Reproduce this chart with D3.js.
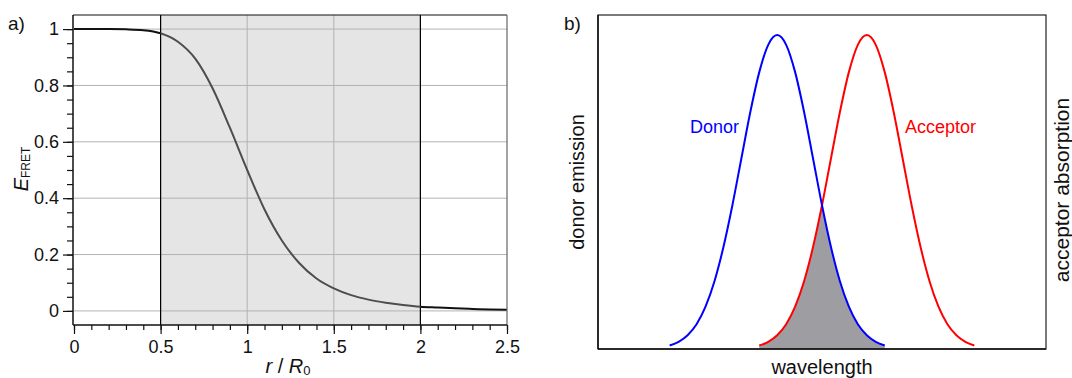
<!DOCTYPE html>
<html>
<head>
<meta charset="utf-8">
<script src="https://cdn.jsdelivr.net/npm/d3@7"></script>
<style>
  body { margin: 0; background: #fff; }
  svg { display: block; font-family: "Liberation Sans", Arial, Helvetica, sans-serif; }
</style>
</head>
<body>
<svg id="chart" width="1072" height="378"></svg>
<script>
'use strict';

// panel a) FRET efficiency vs distance
const distanceR = [0, 0.1, 0.2, 0.3, 0.4, 0.5, 0.6, 0.7, 0.8, 0.9, 1.0, 1.1, 1.2, 1.3,
                   1.4, 1.5, 1.6, 1.7, 1.8, 1.9, 2.0, 2.1, 2.2, 2.3, 2.4, 2.5];
const efficiency = [1, 1, 1, 0.999, 0.996, 0.985, 0.955, 0.895, 0.79, 0.65, 0.5, 0.36,
                    0.25, 0.17, 0.115, 0.08, 0.056, 0.04, 0.029, 0.021, 0.015, 0.012,
                    0.009, 0.007, 0.005, 0.004];
const xTicksA = [0, 0.5, 1, 1.5, 2, 2.5];
const yTicksA = [0, 0.2, 0.4, 0.6, 0.8, 1];
const shadedRange = [0.5, 2];

// panel b) spectra (arbitrary wavelength units 0..100)
const donorWl = [16, 18, 20, 22, 24, 26, 28, 30, 32, 34, 36, 38, 40,
                 42, 44, 46, 48, 50, 52, 54, 56, 58, 60, 62, 64];
const donorEm = [0.011, 0.023, 0.044, 0.079, 0.135, 0.216, 0.325, 0.458, 0.607, 0.755, 0.882, 0.969, 1,
                 0.969, 0.882, 0.755, 0.607, 0.458, 0.325, 0.216, 0.135, 0.079, 0.044, 0.023, 0.011];
const acceptorWl = [36, 38, 40, 42, 44, 46, 48, 50, 52, 54, 56, 58, 60,
                    62, 64, 66, 68, 70, 72, 74, 76, 78, 80, 82, 84];
const acceptorAbs = [0.011, 0.023, 0.044, 0.079, 0.135, 0.216, 0.325, 0.458, 0.607, 0.755, 0.882, 0.969, 1,
                     0.969, 0.882, 0.755, 0.607, 0.458, 0.325, 0.216, 0.135, 0.079, 0.044, 0.023, 0.011];

const svg = d3.select('#chart');

// ---------- panel a ----------
const A = { left: 74, right: 507, top: 15, bottom: 325 };
const xA = d3.scaleLinear().domain([0, 2.5]).range([A.left, A.right]);
const yA = d3.scaleLinear().domain([-0.05, 1.05]).range([A.bottom, A.top]);

const ga = svg.append('g');

ga.append('rect')
  .attr('x', xA(shadedRange[0])).attr('y', A.top)
  .attr('width', xA(shadedRange[1]) - xA(shadedRange[0]))
  .attr('height', A.bottom - A.top)
  .attr('fill', '#e5e5e5');

// grid
ga.selectAll('line.hgrid').data(yTicksA).join('line')
  .attr('x1', A.left).attr('x2', A.right)
  .attr('y1', d => yA(d)).attr('y2', d => yA(d))
  .attr('stroke', '#b3b3b3').attr('stroke-width', 1);
ga.selectAll('line.vgrid').data(xTicksA.slice(1, -1)).join('line')
  .attr('x1', d => xA(d)).attr('x2', d => xA(d))
  .attr('y1', A.top).attr('y2', A.bottom)
  .attr('stroke', '#b3b3b3').attr('stroke-width', 1);

// shaded region borders
ga.selectAll('line.edge').data(shadedRange).join('line')
  .attr('x1', d => xA(d)).attr('x2', d => xA(d))
  .attr('y1', A.top).attr('y2', A.bottom)
  .attr('stroke', '#000').attr('stroke-width', 1.2);

// curve: black outside the shaded band, grey inside it
const pts = distanceR.map((r, i) => [r, efficiency[i]]);
const lineA = d3.line().x(d => xA(d[0])).y(d => yA(d[1])).curve(d3.curveMonotoneX);
const x0 = xA(shadedRange[0]), x1 = xA(shadedRange[1]);
svg.append('clipPath').attr('id', 'shadeIn').append('rect')
  .attr('x', x0).attr('y', 0).attr('width', x1 - x0).attr('height', 378);
svg.append('clipPath').attr('id', 'shadeOut').append('path')
  .attr('d', `M0,0H${x0}V378H0Z M${x1},0H1072V378H${x1}Z`);
ga.append('path').attr('d', lineA(pts))
  .attr('clip-path', 'url(#shadeOut)')
  .attr('fill', 'none').attr('stroke', '#111').attr('stroke-width', 2);
ga.append('path').attr('d', lineA(pts))
  .attr('clip-path', 'url(#shadeIn)')
  .attr('fill', 'none').attr('stroke', '#4d4d4d').attr('stroke-width', 2);

// frame
ga.append('line').attr('x1', A.left - 1).attr('x2', A.right).attr('y1', A.top).attr('y2', A.top)
  .attr('stroke', '#111').attr('stroke-width', 1.2);
ga.append('line').attr('x1', A.right).attr('x2', A.right).attr('y1', A.top).attr('y2', A.bottom)
  .attr('stroke', '#666').attr('stroke-width', 1.2);

// axes
const xAxisA = d3.axisBottom(xA).tickValues(xTicksA).tickSize(9).tickPadding(6)
  .tickFormat(d3.format('~g'));
const xMinorA = d3.axisBottom(xA).tickValues(d3.range(0, 2.501, 0.1)).tickSize(5).tickFormat('');
const yAxisA = d3.axisLeft(yA).tickValues(yTicksA).tickSize(10).tickPadding(4)
  .tickFormat(d3.format('~g'));
const yMinorA = d3.axisLeft(yA).tickValues(d3.range(0, 1.001, 0.05)).tickSize(6).tickFormat('');

function styleAxis(g) {
  g.select('.domain').remove();
  g.selectAll('.tick line').attr('stroke', '#111').attr('stroke-width', 1.2);
  g.selectAll('.tick text').attr('font-size', 18).attr('fill', '#111')
    .attr('font-family', '"Liberation Sans", Arial, sans-serif');
}
ga.append('g').attr('transform', `translate(0,${A.bottom})`).call(xMinorA).call(styleAxis);
ga.append('g').attr('transform', `translate(0,${A.bottom})`).call(xAxisA).call(styleAxis);
ga.append('g').attr('transform', `translate(${A.left - 1},0)`).call(yMinorA).call(styleAxis);
ga.append('g').attr('transform', `translate(${A.left - 1},0)`).call(yAxisA).call(styleAxis);

ga.append('line').attr('x1', A.left - 1).attr('x2', A.right).attr('y1', A.bottom).attr('y2', A.bottom)
  .attr('stroke', '#111').attr('stroke-width', 1.5);
ga.append('line').attr('x1', A.left - 1).attr('x2', A.left - 1).attr('y1', A.top).attr('y2', A.bottom)
  .attr('stroke', '#111').attr('stroke-width', 1.5);

// labels
svg.append('text').attr('x', 8).attr('y', 30).attr('font-size', 19).attr('fill', '#111').text('a)');

const yl = svg.append('text').attr('transform', 'translate(28,169) rotate(-90)')
  .attr('text-anchor', 'middle').attr('fill', '#111');
yl.append('tspan').attr('font-size', 20).attr('font-style', 'italic').text('E');
yl.append('tspan').attr('font-size', 12).attr('dy', 2).text('FRET');

const xl = svg.append('text').attr('x', 288).attr('y', 373)
  .attr('text-anchor', 'middle').attr('fill', '#111').attr('font-size', 20);
xl.append('tspan').attr('font-style', 'italic').text('r');
xl.append('tspan').text(' / ');
xl.append('tspan').attr('font-style', 'italic').text('R');
xl.append('tspan').attr('font-size', 13).attr('dy', 2).text('0');

// ---------- panel b ----------
const B = { left: 598, right: 1046, top: 15, bottom: 349 };
const xB = d3.scaleLinear().domain([0, 100]).range([B.left, B.right]);
const yB = d3.scaleLinear().domain([0, 1.064]).range([B.bottom, B.top]);

const gb = svg.append('g');
const donorPts = donorWl.map((w, i) => [w, donorEm[i]]);
const accPts = acceptorWl.map((w, i) => [w, acceptorAbs[i]]);

const lineB = d3.line().x(d => xB(d[0])).y(d => yB(d[1])).curve(d3.curveMonotoneX);
const areaB = d3.area().x(d => xB(d[0])).y0(yB(0)).y1(d => yB(d[1])).curve(d3.curveMonotoneX);

// spectral overlap: donor area clipped by acceptor area
svg.append('clipPath').attr('id', 'accClip').append('path').attr('d', areaB(accPts));
gb.append('path').attr('d', areaB(donorPts)).attr('clip-path', 'url(#accClip)')
  .attr('fill', '#9e9da2');

gb.append('path').attr('d', lineB(accPts))
  .attr('fill', 'none').attr('stroke', '#ff0000').attr('stroke-width', 2);
gb.append('path').attr('d', lineB(donorPts))
  .attr('fill', 'none').attr('stroke', '#0000ff').attr('stroke-width', 2);

gb.append('rect').attr('x', B.left).attr('y', B.top)
  .attr('width', B.right - B.left).attr('height', B.bottom - B.top)
  .attr('fill', 'none').attr('stroke', '#222').attr('stroke-width', 1.2);
gb.append('line').attr('x1', B.left).attr('x2', B.right).attr('y1', B.bottom).attr('y2', B.bottom)
  .attr('stroke', '#111').attr('stroke-width', 1.5);
gb.append('line').attr('x1', B.left).attr('x2', B.left).attr('y1', B.top).attr('y2', B.bottom)
  .attr('stroke', '#111').attr('stroke-width', 1.5);

svg.append('text').attr('x', 564).attr('y', 30).attr('font-size', 19).attr('fill', '#111').text('b)');

svg.append('text').attr('x', 690).attr('y', 133).attr('font-size', 18)
  .attr('fill', '#0000ff').text('Donor');
svg.append('text').attr('x', 905).attr('y', 133).attr('font-size', 18)
  .attr('fill', '#ff0000').text('Acceptor');

svg.append('text').attr('transform', 'translate(584,182) rotate(-90)')
  .attr('text-anchor', 'middle').attr('font-size', 20).attr('fill', '#111').text('donor emission');
svg.append('text').attr('transform', 'translate(1069,190) rotate(-90)')
  .attr('text-anchor', 'middle').attr('font-size', 21).attr('fill', '#111').text('acceptor absorption');
svg.append('text').attr('x', xB(50)).attr('y', 374)
  .attr('text-anchor', 'middle').attr('font-size', 20).attr('fill', '#111').text('wavelength');
</script>
</body>
</html>
